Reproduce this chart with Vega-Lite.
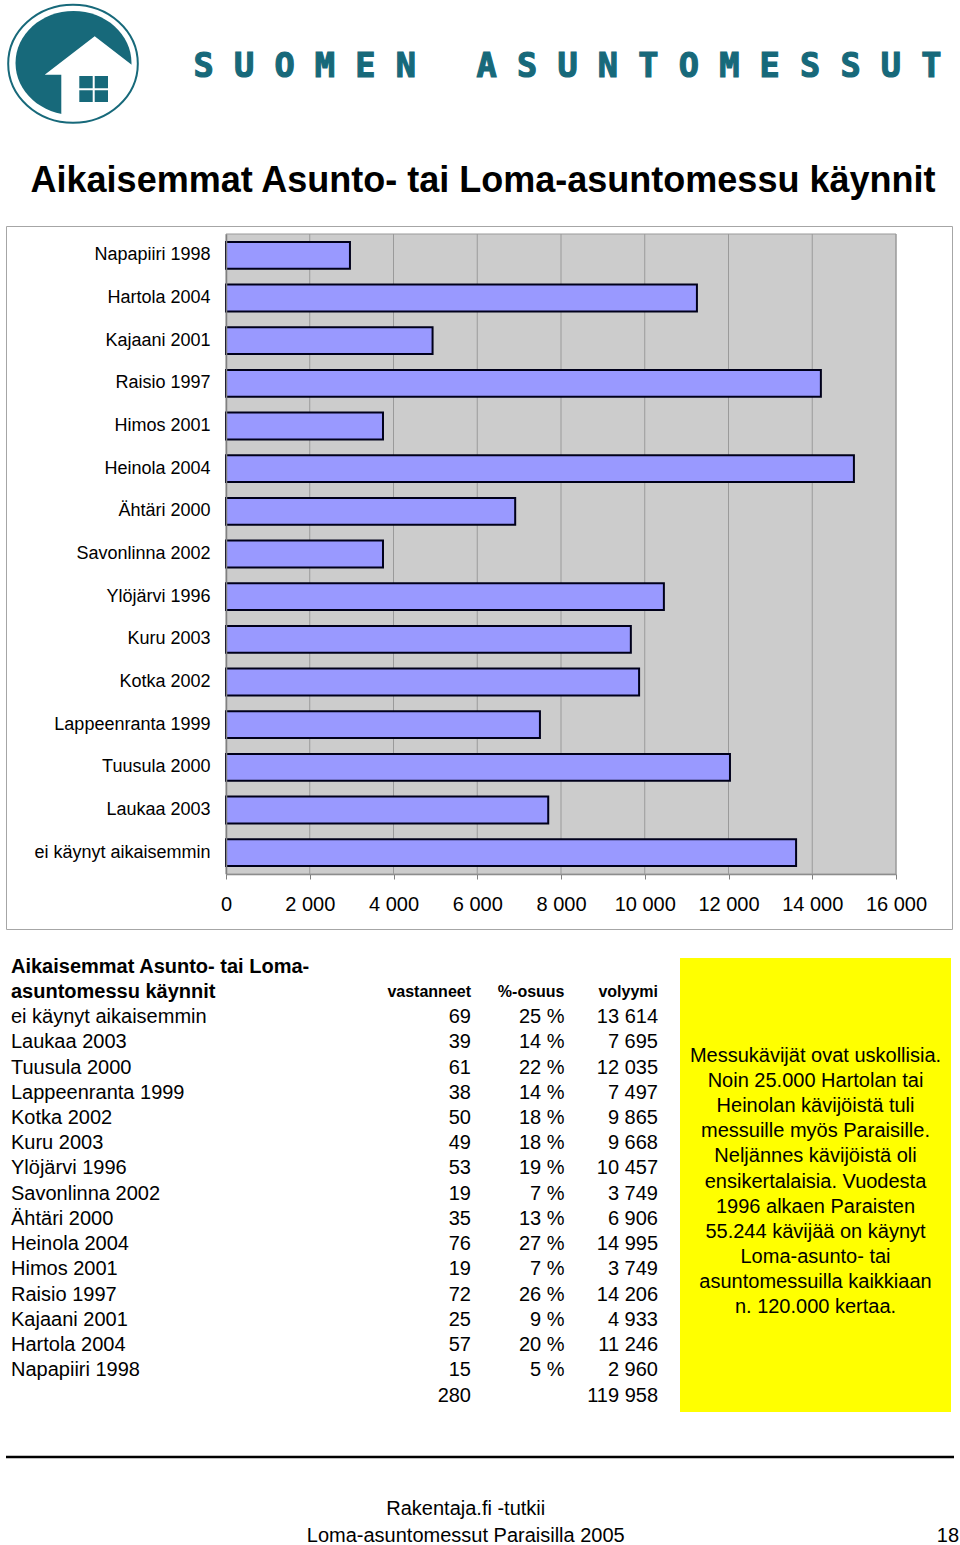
{
  "$schema": "https://vega.github.io/schema/vega-lite/v6.json",
  "padding": {"left": 4, "top": 0, "right": 0, "bottom": 0},
  "spacing": 26,
  "datasets": {
    "visits": [
      {"name": "ei käynyt aikaisemmin", "vastanneet": 69, "osuus": 0.25, "volyymi": 13614},
      {"name": "Laukaa 2003", "vastanneet": 39, "osuus": 0.14, "volyymi": 7695},
      {"name": "Tuusula 2000", "vastanneet": 61, "osuus": 0.22, "volyymi": 12035},
      {"name": "Lappeenranta 1999", "vastanneet": 38, "osuus": 0.14, "volyymi": 7497},
      {"name": "Kotka 2002", "vastanneet": 50, "osuus": 0.18, "volyymi": 9865},
      {"name": "Kuru 2003", "vastanneet": 49, "osuus": 0.18, "volyymi": 9668},
      {"name": "Ylöjärvi 1996", "vastanneet": 53, "osuus": 0.19, "volyymi": 10457},
      {"name": "Savonlinna 2002", "vastanneet": 19, "osuus": 0.07, "volyymi": 3749},
      {"name": "Ähtäri 2000", "vastanneet": 35, "osuus": 0.13, "volyymi": 6906},
      {"name": "Heinola 2004", "vastanneet": 76, "osuus": 0.27, "volyymi": 14995},
      {"name": "Himos 2001", "vastanneet": 19, "osuus": 0.07, "volyymi": 3749},
      {"name": "Raisio 1997", "vastanneet": 72, "osuus": 0.26, "volyymi": 14206},
      {"name": "Kajaani 2001", "vastanneet": 25, "osuus": 0.09, "volyymi": 4933},
      {"name": "Hartola 2004", "vastanneet": 57, "osuus": 0.20, "volyymi": 11246},
      {"name": "Napapiiri 1998", "vastanneet": 15, "osuus": 0.05, "volyymi": 2960}
    ],
    "total": [{"row": "yhteensä", "vastanneet": 280, "volyymi": 119958}],
    "gridticks": [{"v": 2000}, {"v": 4000}, {"v": 6000}, {"v": 8000}, {"v": 10000}, {"v": 12000}, {"v": 14000}, {"v": 16000}],
    "note": [
      {"line": "Messukävijät ovat uskollisia."},
      {"line": "Noin 25.000 Hartolan tai"},
      {"line": "Heinolan kävijöistä tuli"},
      {"line": "messuille myös Paraisille."},
      {"line": "Neljännes kävijöistä oli"},
      {"line": "ensikertalaisia. Vuodesta"},
      {"line": "1996 alkaen Paraisten"},
      {"line": "55.244 kävijää on käynyt"},
      {"line": "Loma-asunto- tai"},
      {"line": "asuntomessuilla kaikkiaan"},
      {"line": "n. 120.000 kertaa."}
    ]
  },
  "config": {
    "font": "Liberation Sans",
    "view": {"stroke": null},
    "text": {"color": "black"},
    "locale": {"number": {"decimal": ",", "thousands": " ", "grouping": [3], "currency": ["", " €"], "percent": " %"}}
  },
  "vconcat": [
    {
      "spacing": 51,
      "hconcat": [
        {
          "width": 135,
          "height": 135,
          "data": {"values": [{"part": "logo"}]},
          "layer": [
            {"mark": {"type": "point", "shape": "M -5.8 -0.65 A 5.8 5.2 0 1 0 5.8 -0.65 A 5.8 5.2 0 1 0 -5.8 -0.65 Z", "size": 400, "filled": true, "fill": "#17697a", "stroke": null, "opacity": 1}, "encoding": {}},
            {"mark": {"type": "point", "shape": "M 2.12 -3.32 L -2.88 0.52 L -1.22 0.52 L -1.22 5.75 L 6.72 5.75 L 6.72 0.22 Z", "size": 400, "filled": true, "fill": "white", "stroke": null, "opacity": 1}, "encoding": {}},
            {"mark": {"type": "point", "shape": "M 0.58 0.65 H 1.92 V 1.88 H 0.58 Z M 2.12 0.65 H 3.45 V 1.88 H 2.12 Z M 0.58 2.08 H 1.92 V 3.25 H 0.58 Z M 2.12 2.08 H 3.45 V 3.25 H 2.12 Z", "size": 400, "filled": true, "fill": "#17697a", "stroke": null, "opacity": 1}, "encoding": {}},
            {"mark": {"type": "point", "shape": "M -6.53 -0.58 A 6.48 5.9 0 1 0 6.43 -0.58 A 6.48 5.9 0 1 0 -6.53 -0.58 Z", "size": 400, "filled": false, "stroke": "#17697a", "strokeWidth": 2, "opacity": 1}, "encoding": {}}
          ]
        },
        {
          "width": 749,
          "height": 129,
          "data": {"values": [{"brand": "S U O M E N \u00a0 A S U N T O M E S S U T"}]},
          "mark": {"type": "text", "font": "DejaVu Sans Mono", "fontWeight": "bold", "fontSize": 33.6, "fill": "#17697a", "stroke": "#17697a", "strokeWidth": 1.2, "align": "center", "baseline": "middle"},
          "encoding": {"text": {"field": "brand"}}
        }
      ]
    },
    {
      "width": 954,
      "height": 36,
      "data": {"values": [{"title": "Aikaisemmat Asunto- tai Loma-asuntomessu käynnit"}]},
      "mark": {"type": "text", "fontSize": 36, "fontWeight": "bold", "align": "center", "baseline": "middle"},
      "encoding": {"text": {"field": "title"}}
    },
    {
      "width": 946,
      "height": 703,
      "view": {"stroke": "#a6a6a6", "strokeWidth": 1},
      "layer": [
        {
          "data": {"values": [{"part": "plot"}]},
          "mark": {"type": "rect", "fill": "#cccccc", "stroke": "#999999", "strokeWidth": 1},
          "encoding": {
            "x": {"datum": 0, "type": "quantitative", "title": null, "scale": {"domain": [0, 16000], "range": [220, 890], "nice": false, "zero": true}},
            "x2": {"datum": 16000},
            "y": {"datum": "Napapiiri 1998", "type": "nominal", "title": null, "bandPosition": 0,
                  "scale": {"type": "band", "domain": ["Napapiiri 1998", "Hartola 2004", "Kajaani 2001", "Raisio 1997", "Himos 2001", "Heinola 2004", "Ähtäri 2000", "Savonlinna 2002", "Ylöjärvi 1996", "Kuru 2003", "Kotka 2002", "Lappeenranta 1999", "Tuusula 2000", "Laukaa 2003", "ei käynyt aikaisemmin"], "range": [8, 648], "paddingInner": 0, "paddingOuter": 0}},
            "y2": {"datum": "ei käynyt aikaisemmin", "bandPosition": 1}
          }
        },
        {
          "data": {"name": "gridticks"},
          "mark": {"type": "rule", "color": "#9a9a9a", "strokeWidth": 1},
          "encoding": {
            "x": {"field": "v", "type": "quantitative", "title": null},
            "y": {"datum": "Napapiiri 1998", "type": "nominal", "title": null, "bandPosition": 0},
            "y2": {"datum": "ei käynyt aikaisemmin", "bandPosition": 1}
          }
        },
        {
          "data": {"name": "visits"},
          "mark": {"type": "bar", "fill": "#9999ff", "stroke": "#00001a", "strokeWidth": 2, "height": {"band": 0.63}},
          "encoding": {
            "x": {"field": "volyymi", "type": "quantitative", "title": null,
                  "axis": {"offset": -55, "values": [0, 2000, 4000, 6000, 8000, 10000, 12000, 14000, 16000], "format": ",d", "grid": false, "labelFontSize": 20, "labelColor": "black", "labelPadding": 15, "tickSize": 5, "tickColor": "#808080", "domainColor": "#808080", "domainWidth": 1.5, "labelFlush": false, "labelOverlap": false}},
            "y": {"field": "name", "type": "nominal", "title": null,
                  "axis": {"offset": -220, "ticks": false, "tickSize": 0, "labelPadding": 16, "labelFontSize": 18, "labelColor": "black", "labelLimit": 0, "domainColor": "#808080", "domainWidth": 1.5}}
          }
        }
      ]
    },
    {
      "spacing": 22,
      "hconcat": [
        {
          "width": 652,
          "height": 454,
          "resolve": {"scale": {"x": "independent"}},
          "layer": [
            {
              "data": {"values": [{"line": "Aikaisemmat Asunto- tai Loma-"}, {"line": "asuntomessu käynnit"}]},
              "mark": {"type": "text", "align": "left", "baseline": "middle", "fontSize": 20, "fontWeight": "bold"},
              "encoding": {
                "x": {"datum": 0, "type": "quantitative", "axis": null, "scale": {"domain": [0, 1], "padding": 5, "nice": false, "zero": false}},
                "y": {"field": "line", "type": "nominal", "axis": null, "scale": {"type": "point", "domain": ["Aikaisemmat Asunto- tai Loma-", "asuntomessu käynnit", "ei käynyt aikaisemmin", "Laukaa 2003", "Tuusula 2000", "Lappeenranta 1999", "Kotka 2002", "Kuru 2003", "Ylöjärvi 1996", "Savonlinna 2002", "Ähtäri 2000", "Heinola 2004", "Himos 2001", "Raisio 1997", "Kajaani 2001", "Hartola 2004", "Napapiiri 1998", "yhteensä"], "padding": 0.495, "align": 0.344, "round": false}},
                "text": {"field": "line"}
              }
            },
            {
              "data": {"values": [{"col": "vastanneet", "label": "vastanneet"}, {"col": "osuus", "label": "%-osuus"}, {"col": "volyymi", "label": "volyymi"}]},
              "mark": {"type": "text", "align": "right", "baseline": "middle", "fontSize": 16, "fontWeight": "bold"},
              "encoding": {
                "x": {"field": "col", "type": "nominal", "axis": null, "scale": {"type": "point", "domain": ["vastanneet", "osuus", "volyymi"], "range": [465, 652], "padding": 0, "round": false}},
                "y": {"datum": "asuntomessu käynnit", "type": "nominal", "axis": null},
                "text": {"field": "label"}
              }
            },
            {
              "data": {"name": "visits"},
              "mark": {"type": "text", "align": "left", "baseline": "middle", "fontSize": 20},
              "encoding": {
                "x": {"datum": 0, "type": "quantitative", "axis": null, "scale": {"domain": [0, 1], "padding": 5, "nice": false, "zero": false}},
                "y": {"field": "name", "type": "nominal", "axis": null},
                "text": {"field": "name"}
              }
            },
            {
              "data": {"name": "visits"},
              "mark": {"type": "text", "align": "right", "baseline": "middle", "fontSize": 20},
              "encoding": {
                "x": {"datum": "vastanneet", "type": "nominal", "axis": null, "scale": {"type": "point", "domain": ["vastanneet", "osuus", "volyymi"], "range": [465, 652], "padding": 0, "round": false}},
                "y": {"field": "name", "type": "nominal", "axis": null},
                "text": {"field": "vastanneet", "type": "quantitative", "format": "d"}
              }
            },
            {
              "data": {"name": "visits"},
              "mark": {"type": "text", "align": "right", "baseline": "middle", "fontSize": 20},
              "encoding": {
                "x": {"datum": "osuus", "type": "nominal", "axis": null, "scale": {"type": "point", "domain": ["vastanneet", "osuus", "volyymi"], "range": [465, 652], "padding": 0, "round": false}},
                "y": {"field": "name", "type": "nominal", "axis": null},
                "text": {"field": "osuus", "type": "quantitative", "format": ".0%"}
              }
            },
            {
              "data": {"name": "visits"},
              "mark": {"type": "text", "align": "right", "baseline": "middle", "fontSize": 20},
              "encoding": {
                "x": {"datum": "volyymi", "type": "nominal", "axis": null, "scale": {"type": "point", "domain": ["vastanneet", "osuus", "volyymi"], "range": [465, 652], "padding": 0, "round": false}},
                "y": {"field": "name", "type": "nominal", "axis": null},
                "text": {"field": "volyymi", "type": "quantitative", "format": ",d"}
              }
            },
            {
              "data": {"name": "total"},
              "mark": {"type": "text", "align": "right", "baseline": "middle", "fontSize": 20},
              "encoding": {
                "x": {"datum": "vastanneet", "type": "nominal", "axis": null, "scale": {"type": "point", "domain": ["vastanneet", "osuus", "volyymi"], "range": [465, 652], "padding": 0, "round": false}},
                "y": {"field": "row", "type": "nominal", "axis": null},
                "text": {"field": "vastanneet", "type": "quantitative", "format": "d"}
              }
            },
            {
              "data": {"name": "total"},
              "mark": {"type": "text", "align": "right", "baseline": "middle", "fontSize": 20},
              "encoding": {
                "x": {"datum": "volyymi", "type": "nominal", "axis": null, "scale": {"type": "point", "domain": ["vastanneet", "osuus", "volyymi"], "range": [465, 652], "padding": 0, "round": false}},
                "y": {"field": "row", "type": "nominal", "axis": null},
                "text": {"field": "volyymi", "type": "quantitative", "format": ",d"}
              }
            }
          ]
        },
        {
          "width": 271,
          "height": 454,
          "view": {"fill": "#ffff00", "stroke": null},
          "data": {"name": "note"},
          "mark": {"type": "text", "fontSize": 20, "align": "center", "baseline": "middle"},
          "encoding": {
            "y": {"field": "line", "type": "nominal", "sort": null, "axis": null, "scale": {"type": "point", "range": [98, 349], "padding": 0, "round": false}},
            "text": {"field": "line"}
          }
        }
      ]
    },
    {
      "width": 948,
      "height": 109,
      "layer": [
        {
          "data": {"values": [{"row": "rule"}]},
          "mark": {"type": "rule", "color": "black", "strokeWidth": 2.5},
          "encoding": {
            "y": {"field": "row", "type": "nominal", "axis": null, "scale": {"type": "point", "domain": ["rule", "gap", "line1", "line2"], "padding": 0.576, "align": 0.628, "round": false}}
          }
        },
        {
          "data": {"values": [
            {"row": "line1", "col": "main", "label": "Rakentaja.fi -tutkii"},
            {"row": "line2", "col": "main", "label": "Loma-asuntomessut Paraisilla 2005"},
            {"row": "line2", "col": "page", "label": "18"}
          ]},
          "mark": {"type": "text", "align": "center", "baseline": "middle", "fontSize": 20},
          "encoding": {
            "x": {"field": "col", "type": "nominal", "axis": null, "scale": {"type": "point", "domain": ["main", "page"], "padding": 0.483, "align": 0.987, "round": false}},
            "y": {"field": "row", "type": "nominal", "axis": null},
            "text": {"field": "label"}
          }
        }
      ]
    }
  ]
}
